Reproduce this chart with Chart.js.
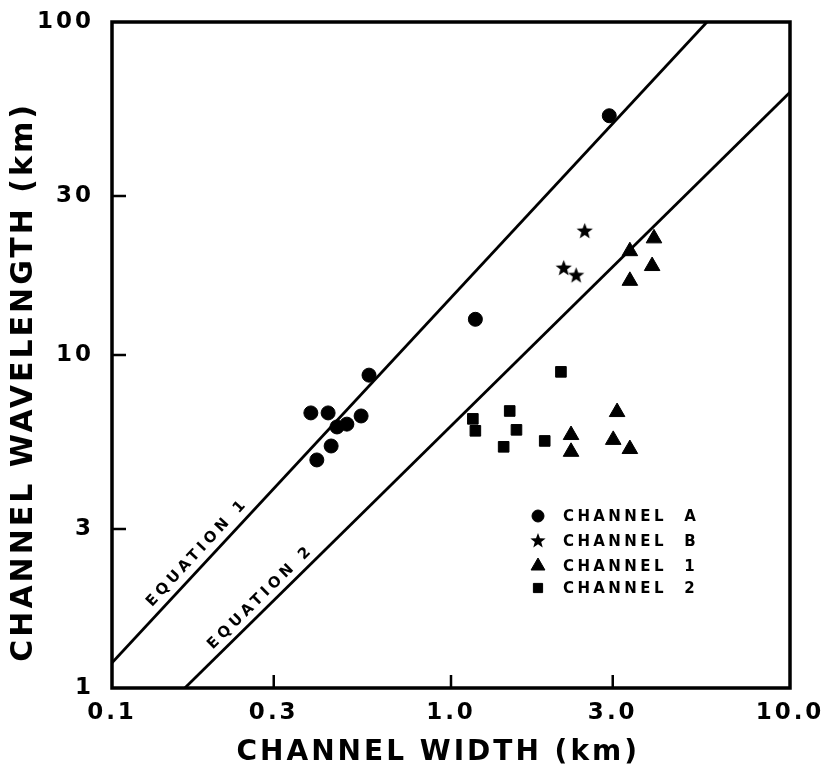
<!DOCTYPE html>
<html lang="en">
<head>
<meta charset="UTF-8">
<title>Channel width vs wavelength</title>
<script src="https://cdn.jsdelivr.net/npm/chart.js@4"></script>
<style>
  html, body { margin: 0; padding: 0; background: #fff; }
</style>
</head>
<body>
<canvas id="myChart" width="822" height="773"></canvas>
<script>
// values: channel width (km) and wavelength (km)
const channelAWidth = [0.386, 0.434, 0.402, 0.443, 0.461, 0.493, 0.543, 0.573, 1.18, 2.93];
const channelAWave  = [6.7, 6.7, 4.84, 5.33, 6.08, 6.2, 6.56, 8.7, 12.8, 52.3];

const channelBWidth = [2.48, 2.15, 2.34];
const channelBWave  = [23.5, 18.2, 17.3];

const channel1Width = [3.97, 3.37, 3.92, 3.37, 3.09, 2.26, 3.01, 2.26, 3.37];
const channel1Wave  = [22.4, 20.5, 18.5, 16.7, 6.74, 5.75, 5.56, 5.12, 5.22];

const channel2Width = [1.16, 1.18, 1.49, 1.56, 1.43, 1.89, 2.11];
const channel2Wave  = [6.43, 5.92, 6.79, 5.96, 5.30, 5.52, 8.9];

// the two fitted lines, given by their end points
const equation1Width = [0.1, 5.69];
const equation1Wave  = [1.19, 100];
const equation2Width = [0.164, 10];
const equation2Wave  = [1, 61.5];

const xTicks = [0.1, 0.3, 1, 3, 10];
const xTickLabels = ['0.1', '0.3', '1.0', '3.0', '10.0'];
const yTicks = [1, 3, 10, 30, 100];
const yTickLabels = ['1', '3', '10', '30', '100'];

const FONT = '"DejaVu Sans", "Liberation Sans", sans-serif';

function pairs(xs, ys) {
    return xs.map((x, i) => ({x: x, y: ys[i]}));
}

// filled five pointed star for channel B
function makeStar(r) {
    const c = document.createElement('canvas');
    const s = Math.ceil(r * 2 + 2);
    c.width = s; c.height = s;
    const g = c.getContext('2d');
    g.fillStyle = '#000';
    g.beginPath();
    for (let i = 0; i < 10; i++) {
        const rr = i % 2 === 0 ? r : r * 0.42;
        const a = -Math.PI / 2 + i * Math.PI / 5;
        const px = s / 2 + Math.cos(a) * rr;
        const py = s / 2 + Math.sin(a) * rr;
        if (i === 0) g.moveTo(px, py); else g.lineTo(px, py);
    }
    g.closePath();
    g.fill();
    return c;
}
const starImg = makeStar(8.5);
const starSmall = makeStar(8);

const spacingPlugin = {
    id: 'spacing',
    beforeUpdate(chart) { chart.ctx.letterSpacing = '3px'; },
    beforeDraw(chart) { chart.ctx.letterSpacing = '3px'; }
};

// frame and inward tick marks
const framePlugin = {
    id: 'frame',
    afterDatasetsDraw(chart) {
        const ctx = chart.ctx;
        const a = chart.chartArea;
        const xs = chart.scales.x, ys = chart.scales.y;
        ctx.save();
        ctx.strokeStyle = '#000';
        ctx.lineWidth = 2.5;
        ctx.beginPath();
        xTicks.slice(1, -1).forEach(v => {
            const px = xs.getPixelForValue(v);
            ctx.moveTo(px, a.bottom);
            ctx.lineTo(px, a.bottom - 13);
        });
        yTicks.slice(1, -1).forEach(v => {
            const py = ys.getPixelForValue(v);
            ctx.moveTo(a.left, py);
            ctx.lineTo(a.left + 14, py);
        });
        ctx.stroke();
        ctx.lineWidth = 3.5;
        ctx.strokeRect(a.left, a.top, a.right - a.left, a.bottom - a.top);
        ctx.restore();
    }
};

// rotated labels along the equation lines
const eqLabelPlugin = {
    id: 'eqLabels',
    afterDatasetsDraw(chart, args, opts) {
        const ctx = chart.ctx;
        const xs = chart.scales.x, ys = chart.scales.y;
        opts.items.forEach(item => {
            const ds = chart.data.datasets[item.dataset].data;
            const p0 = {x: xs.getPixelForValue(ds[0].x), y: ys.getPixelForValue(ds[0].y)};
            const p1 = {x: xs.getPixelForValue(ds[1].x), y: ys.getPixelForValue(ds[1].y)};
            const ang = Math.atan2(p1.y - p0.y, p1.x - p0.x);
            const px = xs.getPixelForValue(item.at);
            const t = (px - p0.x) / (p1.x - p0.x);
            const py = p0.y + t * (p1.y - p0.y);
            ctx.save();
            ctx.translate(px, py);
            ctx.rotate(ang);
            ctx.font = 'bold 15px ' + FONT;
            ctx.letterSpacing = '4px';
            ctx.fillStyle = '#000';
            ctx.textAlign = 'center';
            ctx.textBaseline = 'bottom';
            ctx.fillText(item.text, 0, -item.offset);
            ctx.restore();
        });
    }
};

// legend inside the plot, lower right
const legendPlugin = {
    id: 'boxLegend',
    afterDatasetsDraw(chart, args, opts) {
        const ctx = chart.ctx;
        ctx.save();
        opts.rows.forEach((row, i) => {
            const ds = chart.data.datasets[row.dataset];
            const y = opts.y + i * opts.gap[i];
            ctx.fillStyle = '#000';
            ctx.strokeStyle = '#000';
            ctx.lineWidth = 1;
            const style = ds.pointStyle === starImg ? starSmall : ds.pointStyle;
            Chart.helpers.drawPoint(ctx, {pointStyle: style, radius: row.radius, borderWidth: 1}, opts.x, y);
            ctx.font = 'bold 15px ' + FONT;
            ctx.letterSpacing = '3.4px';
            ctx.textAlign = 'left';
            ctx.textBaseline = 'middle';
            ctx.fillText(ds.label, opts.x + 25, y + 1);
        });
        ctx.restore();
    }
};

const pointSet = (label, xs, ys, style, r) => ({
    label: label,
    data: pairs(xs, ys),
    pointStyle: style,
    pointRadius: r,
    pointHoverRadius: r,
    backgroundColor: '#000',
    borderColor: '#000',
    borderWidth: 1,
    showLine: false
});

const lineSet = (label, xs, ys) => ({
    label: label,
    data: pairs(xs, ys),
    showLine: true,
    pointRadius: 0,
    borderColor: '#000',
    borderWidth: 2.8,
    fill: false
});

const data = {
    datasets: [
        pointSet('CHANNEL  A', channelAWidth, channelAWave, 'circle', 7),
        pointSet('CHANNEL  B', channelBWidth, channelBWave, starImg, 8),
        pointSet('CHANNEL  1', channel1Width, channel1Wave, 'triangle', 9),
        pointSet('CHANNEL  2', channel2Width, channel2Wave, 'rect', 7.5),
        lineSet('EQUATION 1', equation1Width, equation1Wave),
        lineSet('EQUATION 2', equation2Width, equation2Wave)
    ]
};

const config = {
    type: 'scatter',
    data: data,
    options: {
        responsive: false,
        animation: false,
        layout: {padding: {top: 22, right: 32, left: 0, bottom: 0}},
        scales: {
            x: {
                type: 'logarithmic',
                min: 0.1,
                max: 10,
                afterFit: s => { s.height = 85; s.paddingRight = 0; s.paddingLeft = 0; },
                afterBuildTicks: s => { s.ticks = xTicks.map(v => ({value: v})); },
                grid: {display: false},
                border: {display: false},
                ticks: {
                    color: '#000',
                    padding: 3,
                    maxRotation: 0,
                    font: {family: FONT, size: 23, weight: 'bold'},
                    callback: (v, i) => xTickLabels[i]
                },
                title: {
                    display: true,
                    text: 'CHANNEL WIDTH (km)  ',
                    color: '#000',
                    padding: {top: 0, bottom: 3},
                    font: {family: FONT, size: 28, weight: 'bold'}
                }
            },
            y: {
                type: 'logarithmic',
                min: 1,
                max: 100,
                afterFit: s => { s.width = 112; s.paddingTop = 0; s.paddingBottom = 0; },
                afterBuildTicks: s => { s.ticks = yTicks.map(v => ({value: v})); },
                grid: {display: false},
                border: {display: false},
                ticks: {
                    color: '#000',
                    padding: 10,
                    font: {family: FONT, size: 23, weight: 'bold'},
                    callback: (v, i) => yTickLabels[i]
                },
                title: {
                    display: true,
                    text: 'CHANNEL WAVELENGTH (km)    ',
                    color: '#000',
                    padding: {top: 6, bottom: 0},
                    font: {family: FONT, size: 30, weight: 'bold'}
                }
            }
        },
        plugins: {
            legend: {display: false},
            tooltip: {enabled: false},
            eqLabels: {
                items: [
                    {dataset: 4, text: 'EQUATION 1', at: 0.19, offset: 5},
                    {dataset: 5, text: 'EQUATION 2', at: 0.29, offset: 4}
                ]
            },
            boxLegend: {
                x: 538,
                y: 516,
                gap: [0, 25, 25, 24],
                rows: [
                    {dataset: 0, radius: 6},
                    {dataset: 1, radius: 7},
                    {dataset: 2, radius: 8},
                    {dataset: 3, radius: 6.5}
                ]
            }
        }
    },
    plugins: [spacingPlugin, framePlugin, eqLabelPlugin, legendPlugin]
};

const myChart = new Chart(document.getElementById('myChart'), config);
</script>
</body>
</html>
